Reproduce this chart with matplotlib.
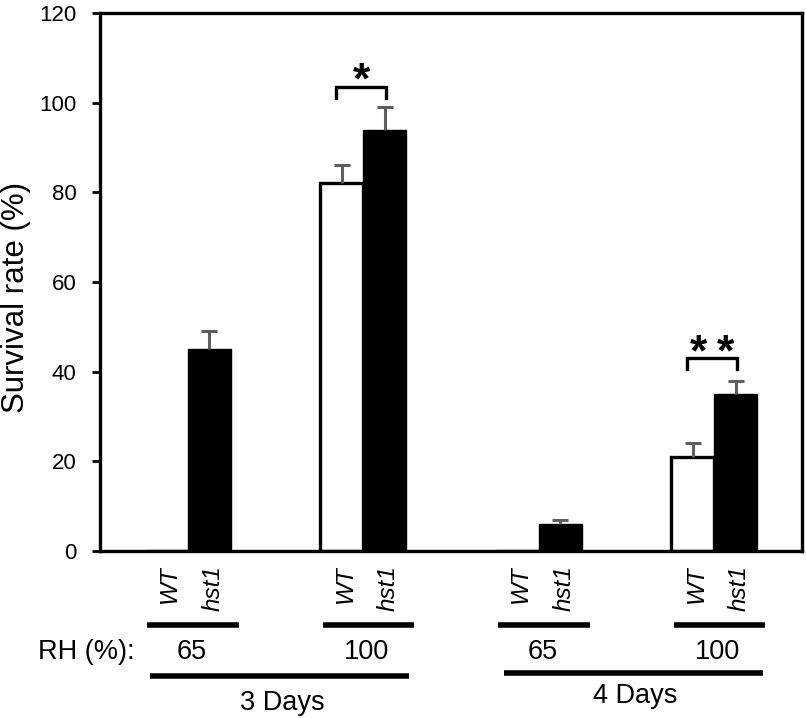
import matplotlib
matplotlib.use("Agg")
import matplotlib.pyplot as plt
import numpy as np

plt.rcParams['font.family'] = ['Liberation Sans', 'DejaVu Sans']

# Data
groups = ["65", "100", "65", "100"]
days = ["3 Days", "4 Days"]
genotypes = ["WT", "hst1"]
wt_vals = [0, 82, 0, 21]
wt_err = [0, 4, 0, 3]
hst1_vals = [45, 94, 6, 35]
hst1_err = [4, 5, 1, 3]
yticks = [0, 20, 40, 60, 80, 100, 120]

fig = plt.figure(figsize=(8.06, 7.18), dpi=100)
ax = fig.add_axes([0.124, 0.2326, 0.871, 0.7494])

x = np.arange(len(groups))
w = 0.245
off = 0.1225
ax.bar(x - off, wt_vals, width=w, color='white', edgecolor='black', linewidth=2.4, zorder=2)
ax.bar(x + off, hst1_vals, width=w, color='black', edgecolor='black', linewidth=1, zorder=2)

def err(xs, vals, errs):
    for xi, v, e in zip(xs, vals, errs):
        if v <= 0:
            continue
        _, caps, _ = ax.errorbar([xi], [v], yerr=[[0], [e]], fmt='none', ecolor='#5f5f5f',
                                 elinewidth=2.2, capsize=6, capthick=2.2, zorder=3)
        caps[0].set_visible(False)

err(x - off, wt_vals, wt_err)
err(x + off, hst1_vals, hst1_err)

ax.set_xlim(-0.5, 3.5)
ax.set_ylim(0, 120)
ax.set_yticks(yticks)
ax.set_xticks([])
ax.tick_params(axis='y', direction='out', length=6, width=2, labelsize=16, pad=11)
for s in ax.spines.values():
    s.set_linewidth(2.4)
ax.set_ylabel("Survival rate (%)", fontsize=22.5)
ax.yaxis.label.set_va('center')
ax.yaxis.set_label_coords(-0.119, 0.472)

# significance brackets
def bracket(i, ytop, ylow, n, ystar):
    x0, x1 = i - 0.155, i + 0.132
    ax.plot([x0, x0, x1, x1], [ylow, ytop, ytop, ylow], color='black', lw=2.4,
            solid_joinstyle='miter', zorder=4)
    xc = (x0 + x1) / 2
    spacing = 0.155
    for k in range(n):
        xs = xc + (k - (n - 1) / 2) * spacing
        ax.text(xs, ystar, "*", ha='center', va='center', fontsize=32, fontweight='bold')

bracket(1, 103.5, 101.0, 1, 104.6)
bracket(3, 43.0, 40.5, 2, 44.0)

tr = ax.get_xaxis_transform()
# genotype labels
for i in range(len(groups)):
    for j, g in enumerate(genotypes):
        xi = i - off + j * 2 * off + 0.02
        ax.text(xi, -0.027, g, transform=tr, rotation=90, ha='center', va='top',
                fontsize=17.5, style='italic', clip_on=False)
    ax.plot([i - 0.23, i + 0.29], [-0.1375, -0.1375], transform=tr, color='black',
            lw=4, clip_on=False, solid_capstyle='butt')
    ax.text(i + 0.02, -0.188, groups[i], transform=tr, ha='center', va='center',
            fontsize=19.5, clip_on=False)

ax.text(-0.30, -0.188, "RH (%):", transform=tr, ha='right', va='center', fontsize=19.5,
        clip_on=False)

ax.plot([-0.215, 1.26], [-0.232, -0.232], transform=tr, color='black', lw=4,
        clip_on=False, solid_capstyle='butt')
ax.text(0.537, -0.282, days[0], transform=tr, ha='center', va='center', fontsize=19.5,
        clip_on=False)
ax.plot([1.80, 3.28], [-0.227, -0.227], transform=tr, color='black', lw=4,
        clip_on=False, solid_capstyle='butt')
ax.text(2.55, -0.269, days[1], transform=tr, ha='center', va='center', fontsize=19.5,
        clip_on=False)

fig.savefig("out.png", dpi=100)
